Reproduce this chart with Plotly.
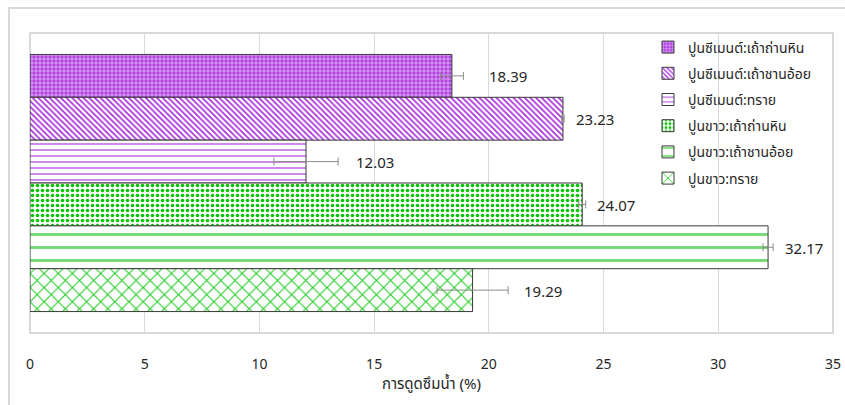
import plotly.graph_objects as go

# Water absorption (%) by binder : aggregate mix
mixes = [
    "ปูนซีเมนต์:เถ้าถ่านหิน",
    "ปูนซีเมนต์:เถ้าชานอ้อย",
    "ปูนซีเมนต์:ทราย",
    "ปูนขาว:เถ้าถ่านหิน",
    "ปูนขาว:เถ้าชานอ้อย",
    "ปูนขาว:ทราย",
]
absorption = [18.39, 23.23, 12.03, 24.07, 32.17, 19.29]
errors = [0.5, 0.05, 1.4, 0.15, 0.22, 1.55]
x_ticks = [0, 5, 10, 15, 20, 25, 30, 35]

PURPLE = "#A62BDA"
GREEN = "#00C400"

# fill style for each mix (pattern shape, fg, bg, size, solidity)
fills = [
    dict(shape="+", fgcolor="#EBD2F8", bgcolor="#B040E0", size=4, solidity=0.3),
    dict(shape="\\", fgcolor=PURPLE, bgcolor="white", size=4, solidity=0.4),
    dict(shape="-", fgcolor="#B24FDF", bgcolor="white", size=6, solidity=0.22),
    dict(shape=".", fgcolor=GREEN, bgcolor="white", size=5, solidity=0.4),
    dict(shape="-", fgcolor="#74D874", bgcolor="white", size=13, solidity=0.22),
    dict(shape="x", fgcolor="#1FCB1F", bgcolor="white", size=10, solidity=0.2),
]

fig = go.Figure()
for i, (name, v, e) in enumerate(zip(mixes, absorption, errors)):
    fig.add_trace(go.Bar(
        x=[v], y=["mix"], orientation="h", name=name,
        legendgroup=f"g{i}",
        marker=dict(color="white", line=dict(color="#3a3a3a", width=1),
                    pattern=dict(fillmode="replace", **fills[i])),
        error_x=dict(type="data", array=[e], color="#8c8c8c",
                     thickness=1, width=4),
        hoverinfo="x+name",
    ))

# value labels just past each error bar, centred on each bar's band
label_shift = [24, 10, 16, 9, 10, 14]
n = len(mixes)
top, bottom = 1 - 22 / 300, 21 / 300
band = (top - bottom) / n
for i, (v, e) in enumerate(zip(absorption, errors)):
    fig.add_annotation(
        x=v + e, xref="x", y=top - band * (i + 0.5), yref="paper",
        xanchor="left", yanchor="middle",
        text=f"{v:.2f}", showarrow=False, xshift=label_shift[i],
        font=dict(size=15, color="#262626"),
    )

fig.update_layout(
    width=845, height=405,
    margin=dict(l=30, r=12, t=33, b=72, autoexpand=False),
    paper_bgcolor="white", plot_bgcolor="white",
    barmode="group", bargap=0.143, bargroupgap=0,
    font=dict(family="Noto Sans, Noto Sans Thai, sans-serif", color="#262626"),
    showlegend=True,
    legend=dict(
        x=0.7696, y=1.005, xanchor="left", yanchor="top",
        bgcolor="rgba(0,0,0,0)", traceorder="grouped", tracegroupgap=5,
        font=dict(size=14, color="#262626"),
    ),
    xaxis=dict(
        range=[0, 35], tickvals=x_ticks, ticktext=[str(t) for t in x_ticks],
        showgrid=True, gridcolor="#d9d9d9", gridwidth=1,
        zeroline=False, showline=False, ticks="", automargin=False,
        ticklabelstandoff=21, tickfont=dict(size=14, color="#262626"),
        title=dict(text="การดูดซึมน้ำ (%)", font=dict(size=15, color="#262626"),
                   standoff=4),
    ),
    yaxis=dict(visible=False, autorange="reversed"),
    shapes=[
        # plot-area frame
        dict(type="rect", xref="paper", yref="paper", x0=0, x1=1, y0=0, y1=1,
             line=dict(color="#d9d9d9", width=2), layer="below"),
        # outer chart border
        dict(type="rect", xref="paper", yref="paper",
             x0=-21 / 803, x1=1.03, y0=-0.3, y1=1 + 25 / 300,
             line=dict(color="#d9d9d9", width=2)),
    ],
)

fig.write_html("out.html")
